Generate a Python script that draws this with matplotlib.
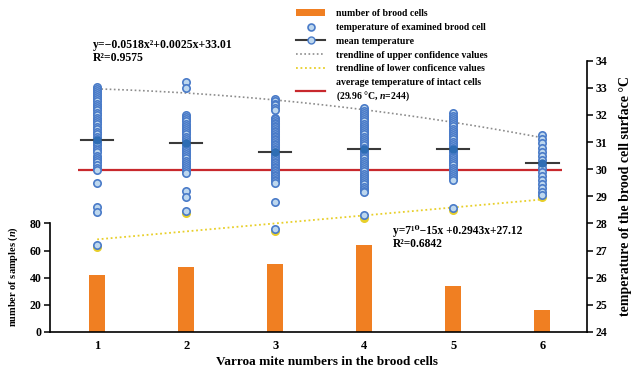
import numpy as np
import matplotlib.pyplot as plt
from matplotlib.lines import Line2D
from matplotlib.patches import Patch

plt.rcParams['font.family'] = ['Liberation Serif', 'DejaVu Serif']
plt.rcParams['font.weight'] = 'bold'
plt.rcParams['axes.labelweight'] = 'bold'
plt.rcParams['mathtext.fontset'] = 'custom'
plt.rcParams['mathtext.rm'] = 'Liberation Serif:bold'
plt.rcParams['mathtext.it'] = 'Liberation Serif:italic:bold'
plt.rcParams['mathtext.bf'] = 'Liberation Serif:bold'

# mite count per brood cell
mites = [1, 2, 3, 4, 5, 6]
# number of examined brood cells
n_cells = [42, 48, 50, 64, 34, 16]
# surface temperature of every examined cell (°C)
temps_1 = [33.03, 32.95, 32.88, 32.8, 32.72, 32.65, 32.57, 32.5, 32.42, 32.33,
           32.25, 32.17, 32.08, 32.0, 31.9, 31.82, 31.73, 31.65, 31.55, 31.47,
           31.38, 31.3, 31.2, 31.12, 31.05, 30.97, 30.88, 30.8, 30.7, 30.62,
           30.5, 30.42, 30.35, 30.25, 30.15, 30.05, 29.98, 29.5, 28.6, 28.42,
           27.2, 31.0]
temps_2 = [33.2, 33.0, 32.0, 31.92, 31.84, 31.76, 31.68, 31.6, 31.52, 31.44,
           31.36, 31.28, 31.2, 31.12, 31.04, 30.96, 30.88, 30.8, 30.72, 30.64,
           30.56, 30.48, 30.4, 30.32, 30.24, 30.16, 30.08, 30.0, 29.92, 29.85,
           29.2, 28.98, 28.47]
temps_3 = [32.58, 32.5, 32.42, 32.35, 32.27, 32.2, 31.9, 31.84, 31.78, 31.72,
           31.66, 31.6, 31.54, 31.48, 31.42, 31.36, 31.3, 31.24, 31.18, 31.12,
           31.06, 31.0, 30.94, 30.88, 30.82, 30.76, 30.7, 30.64, 30.58, 30.52,
           30.46, 30.4, 30.34, 30.28, 30.22, 30.16, 30.1, 30.04, 29.98, 29.92,
           29.86, 29.8, 29.74, 29.68, 29.62, 29.56, 29.5, 28.78, 27.78]
temps_4 = [32.24, 32.16, 32.08, 32.0, 31.92, 31.84, 31.76, 31.68, 31.6, 31.52,
           31.44, 31.36, 31.28, 31.2, 31.12, 31.04, 30.96, 30.88, 30.8, 30.72,
           30.64, 30.56, 30.48, 30.4, 30.32, 30.24, 30.16, 30.08, 30.0, 29.92,
           29.84, 29.76, 29.68, 29.6, 29.52, 29.44, 29.36, 29.28, 29.2, 29.15,
           28.3]
temps_5 = [32.07, 31.98, 31.9, 31.82, 31.74, 31.66, 31.58, 31.5, 31.42, 31.34,
           31.26, 31.18, 31.1, 31.02, 30.94, 30.86, 30.78, 30.7, 30.62, 30.54,
           30.46, 30.38, 30.3, 30.22, 30.14, 30.06, 29.98, 29.9, 29.82, 29.74,
           29.66, 29.6, 28.58, 30.7]
temps_6 = [31.26, 31.1, 30.95, 30.8, 30.65, 30.5, 30.35, 30.2, 30.05, 29.9,
           29.75, 29.6, 29.45, 29.3, 29.15, 29.05]
cell_temps = [temps_1, temps_2, temps_3, temps_4, temps_5, temps_6]
mean_temp = [31.08, 30.96, 30.64, 30.76, 30.76, 30.22]
lower_conf = [27.12, 28.4, 27.72, 28.22, 28.5, 28.97]
intact_mean = 29.96

# trendline coefficients (highest power first)
upper_coef = [-0.0518, 0.0025, 33.01]
lower_coef = [7e-15, 0.2943, 27.12]

orange = '#F07F22'
pt_edge = '#4A7BC8'
pt_face = '#BDD7EE'

fig = plt.figure(figsize=(6.33, 3.71), dpi=100)
ax = fig.add_axes([50 / 633, 39 / 371, 537 / 633, 271.3 / 371])
ax2 = ax.twinx()

# bars: sample size on the left axis
ax.bar(mites, n_cells, width=0.18, color=orange, zorder=2)
ax.set_xlim(0.47, 6.5)
ax.set_ylim(0, 200)
ax.spines['top'].set_visible(False)
ax.spines['right'].set_visible(False)
ax.spines['left'].set_bounds(0, 80)
for s in ('left', 'bottom'):
    ax.spines[s].set_linewidth(1.2)
ax.set_yticks([0, 20, 40, 60, 80])
ax.set_xticks(mites)
ax.tick_params(axis='x', length=0, labelsize=9, pad=6)
ax.tick_params(axis='y', length=4, width=1.1, labelsize=8.5, pad=2)
ax.set_ylabel('number of samples ($n$)', fontsize=7.5)
ax.yaxis.set_label_coords(-0.056, 0.203)
ax.set_xlabel('Varroa mite numbers in the brood cells', fontsize=9.5)
ax.xaxis.set_label_coords(0.516, -0.088)

# temperatures on the right axis
ax2.set_ylim(24, 34)
ax2.set_yticks(range(24, 35))
for s in ('top', 'left', 'bottom'):
    ax2.spines[s].set_visible(False)
ax2.spines['right'].set_linewidth(1.2)
ax2.tick_params(axis='y', length=4, width=1.1, labelsize=8.5, pad=2)
ax2.set_ylabel('temperature of the brood cell surface °C', fontsize=10)
ax2.yaxis.set_label_coords(1.06, 0.5)

xs = np.linspace(1, 6, 60)
ax2.plot(xs, np.polyval(upper_coef, xs), color='#8C8C8C', lw=1.2,
         ls=(0, (1, 1.5)), zorder=3)
ax2.plot(xs, np.polyval(lower_coef, xs), color='#E8CF2A', lw=1.3,
         ls=(0, (1, 1.5)), zorder=3)
ax2.scatter(mites, lower_conf, s=30, color='#E8CF2A', zorder=3)

ax2.hlines(intact_mean, 0.78, 6.22, color='#C8282D', lw=1.6, zorder=4)

for x, vals in zip(mites, cell_temps):
    ax2.scatter([x] * len(vals), vals, s=28, facecolor=pt_face,
                edgecolor=pt_edge, linewidth=1.2, zorder=5)

for x, m in zip(mites, mean_temp):
    ax2.plot([x - 0.18, x + 0.18], [m, m], color='#3A3A3A', lw=1.5, zorder=6)
    ax2.plot(x, m, 'o', ms=5, mfc='#2E6DB4', mec='#2E6DB4', zorder=6)

fig.text(93 / 633, 1 - 45 / 371, 'y=−0.0518x²+0.0025x+33.01',
         fontsize=8.5, va='center')
fig.text(93 / 633, 1 - 58 / 371, 'R²=0.9575', fontsize=8.5, va='center')
fig.text(393 / 633, 1 - 231 / 371, 'y=7¹⁰−15x +0.2943x+27.12',
         fontsize=8.3, va='center')
fig.text(393 / 633, 1 - 244 / 371, 'R²=0.6842', fontsize=8.3, va='center')

handles = [
    Patch(facecolor=orange, edgecolor='none'),
    Line2D([], [], ls='none', marker='o', ms=5, mfc=pt_face, mec=pt_edge, mew=1.2),
    Line2D([], [], color='#3A3A3A', lw=1.5, marker='o', ms=5, mfc=pt_face, mec=pt_edge),
    Line2D([], [], color='#8C8C8C', lw=1.2, ls=(0, (1, 1.5))),
    Line2D([], [], color='#E8CF2A', lw=1.3, ls=(0, (1, 1.5))),
    Line2D([], [], color='#C8282D', lw=1.6),
]
labels = [
    'number of brood cells',
    'temperature of examined brood cell',
    'mean temperature',
    'trendline of upper confidence values',
    'trendline of lower conficence values',
    'average temperature of intact cells\n(29.96 °C, $n$=244)',
]
leg = ax2.legend(handles, labels, loc='upper left', bbox_to_anchor=(296 / 633, 1 - 9 / 371),
                 bbox_transform=fig.transFigure, frameon=False, fontsize=7,
                 handlelength=3.0, handleheight=0.6, handletextpad=1.1,
                 labelspacing=0.5, borderpad=0, borderaxespad=0)

fig.savefig('out.png', dpi=100)
